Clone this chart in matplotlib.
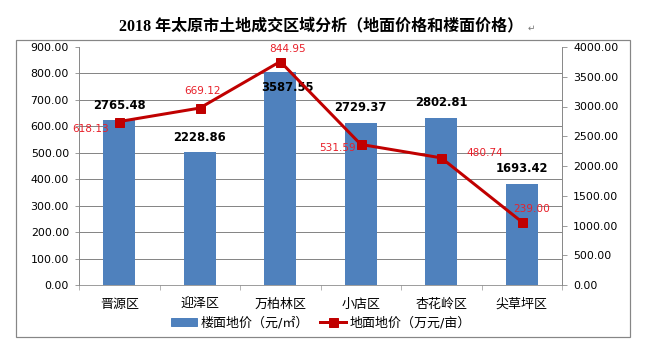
import numpy as np
import matplotlib
matplotlib.use('Agg')
import matplotlib.pyplot as plt
from matplotlib.lines import Line2D
from matplotlib.patches import Patch, Rectangle
from matplotlib.ticker import FixedLocator, FormatStrFormatter

plt.rcParams['font.family'] = ['DejaVu Sans', 'Noto Sans CJK SC']

districts = ['晋源区', '迎泽区', '万柏林区', '小店区', '杏花岭区', '尖草坪区']
floor_price = [2765.48, 2228.86, 3587.55, 2729.37, 2802.81, 1693.42]   # 元/㎡
land_price = [618.13, 669.12, 844.95, 531.59, 480.74, 239.00]          # 万元/亩

# label nudges in pixels (dx, dy)
floor_offsets = [(0, 15), (0, 15), (7, -16), (0, 15), (0, 16), (0, 16)]
land_offsets = [(-29, -7), (3, 17), (7, 13), (-23, -4), (44, 5), (10, 13)]

BLUE = '#4F81BD'
DARK_RED = '#C00000'
LABEL_RED = '#E8202A'
GREY = '#868686'

fig = plt.figure(figsize=(646 / 72, 349 / 72), dpi=72)
ax = fig.add_axes([79 / 646, 1 - 285 / 349, (562 - 79) / 646, (285 - 47) / 349])
ax2 = ax.twinx()

x = np.arange(len(districts))

# bars on the right-hand scale
ax.bar(x, floor_price, width=0.4, color=BLUE, zorder=2)
ax.set_ylim(0, 4000)
ax.set_xlim(-0.5, len(districts) - 0.5)
ax.yaxis.tick_right()
ax.set_yticks(np.arange(0, 4001, 500))
ax.yaxis.set_major_formatter(FormatStrFormatter('%.2f'))
ax.yaxis.set_minor_locator(FixedLocator(np.linspace(0, 4000, 10)))
ax.tick_params(axis='y', which='major', length=5, color=GREY, labelsize=11, pad=6)
ax.tick_params(axis='y', which='minor', length=0)
ax.grid(which='minor', axis='y', color=GREY, linewidth=1)
ax.set_axisbelow(True)

ax.set_xticks(x)
ax.set_xticklabels(districts, fontsize=13)
ax.xaxis.set_minor_locator(FixedLocator(np.arange(-0.5, len(districts), 1)))
ax.tick_params(axis='x', which='major', length=0, pad=13)
ax.tick_params(axis='x', which='minor', length=5, color=GREY)

for v, xi, (dx, dy) in zip(floor_price, x, floor_offsets):
    ax.annotate(f'{v:.2f}', (xi, v), xytext=(dx, dy), textcoords='offset points',
                ha='center', va='center', fontsize=11.5, fontweight='bold', color='black')

# line on the left-hand scale
ax2.plot(x, land_price, color=DARK_RED, linewidth=3, marker='s', markersize=9, zorder=3)
ax2.set_ylim(0, 900)
ax2.yaxis.tick_left()
ax2.set_yticks(np.arange(0, 901, 100))
ax2.yaxis.set_major_formatter(FormatStrFormatter('%.2f'))
ax2.tick_params(axis='y', length=4, color=GREY, labelsize=11, pad=6)

for v, xi, (dx, dy) in zip(land_price, x, land_offsets):
    ax2.annotate(f'{v:.2f}', (xi, v), xytext=(dx, dy), textcoords='offset points',
                 ha='center', va='center', fontsize=10.5, color=LABEL_RED)

for a in (ax, ax2):
    a.spines['top'].set_visible(False)
    for s in ('left', 'right', 'bottom'):
        a.spines[s].set_color(GREY)
ax2.spines['bottom'].set_visible(False)

handles = [Patch(color=BLUE, label='楼面地价（元/㎡）'),
           Line2D([], [], color=DARK_RED, linewidth=3, marker='s', markersize=9,
                  label='地面地价（万元/亩）')]
fig.legend(handles=handles, loc='center', bbox_to_anchor=(0.497, 1 - 323 / 349), ncol=2,
           frameon=False, fontsize=13, handlelength=2.0, handleheight=0.55,
           columnspacing=0.9, handletextpad=0.25)

fig.patches.append(Rectangle((16 / 646, 1 - 337 / 349), (630 - 16) / 646, (337 - 40) / 349,
                             transform=fig.transFigure, fill=False, edgecolor=GREY,
                             linewidth=1.2))

fig.text(0.497, 1 - 26 / 349, '2018 年太原市土地成交区域分析（地面价格和楼面价格）',
         ha='center', va='center', fontsize=16, fontweight='bold',
         family=['Liberation Serif', 'Noto Sans CJK SC'])
fig.text(528 / 646, 1 - 28 / 349, '↵', ha='left', va='center', fontsize=9, color='#777777',
         family=['DejaVu Sans'])

fig.savefig('out.png', dpi=72, facecolor='white')
